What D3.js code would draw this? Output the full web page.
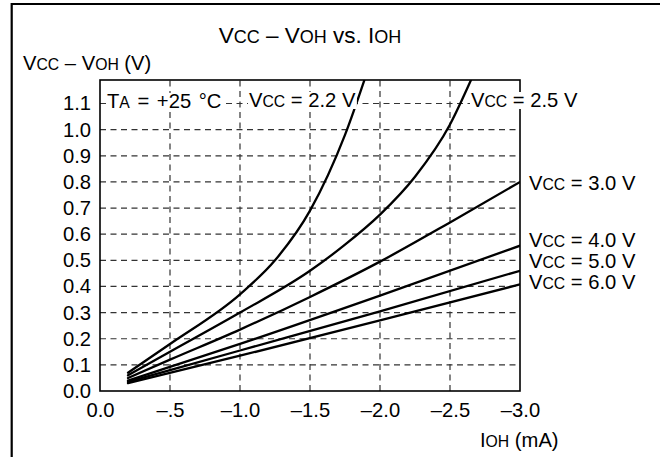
<!DOCTYPE html>
<html>
<head>
<meta charset="utf-8">
<script src="https://cdn.jsdelivr.net/npm/d3@7"></script>
<style>
  html, body { margin: 0; padding: 0; background: #fff; }
  svg { display: block; }
  text { font-family: "Liberation Sans", Arial, Helvetica, sans-serif; fill: #000; }
</style>
</head>
<body>
<svg id="chart" width="660" height="457"></svg>
<script>
// ---------- data ----------
const seriesNames = ["2.2", "2.5", "3.0", "4.0", "5.0", "6.0"];
const ioh22 = [-0.2, -0.5, -1.0, -1.25, -1.5, -1.75, -1.92];
const v22   = [0.07, 0.18, 0.37, 0.50, 0.69, 0.98, 1.24];
const ioh25 = [-0.2, -0.5, -1.0, -1.5, -1.75, -2.0, -2.25, -2.5, -2.65];
const v25   = [0.06, 0.15, 0.30, 0.46, 0.56, 0.675, 0.82, 1.02, 1.19];
const ioh30 = [-0.2, -0.5, -1.0, -1.5, -2.0, -2.5, -3.0];
const v30   = [0.05, 0.12, 0.235, 0.36, 0.495, 0.645, 0.80];
const ioh40 = [-0.2, -1.0, -2.0, -3.0];
const v40   = [0.04, 0.18, 0.365, 0.556];
const ioh50 = [-0.2, -1.0, -2.0, -3.0];
const v50   = [0.035, 0.155, 0.305, 0.46];
const ioh60 = [-0.2, -1.0, -2.0, -3.0];
const v60   = [0.03, 0.135, 0.27, 0.408];
const xTickValues = [0, -0.5, -1.0, -1.5, -2.0, -2.5, -3.0];
const xTickLabels = ["0.0", "\u2013.5", "\u20131.0", "\u20131.5", "\u20132.0", "\u20132.5", "\u20133.0"];
const yTickValues = [0.0, 0.1, 0.2, 0.3, 0.4, 0.5, 0.6, 0.7, 0.8, 0.9, 1.0, 1.1];
const yTickLabels = ["0.0", "0.1", "0.2", "0.3", "0.4", "0.5", "0.6", "0.7", "0.8", "0.9", "1.0", "1.1"];

const seriesI = [ioh22, ioh25, ioh30, ioh40, ioh50, ioh60];
const seriesV = [v22, v25, v30, v40, v50, v60];

// ---------- layout ----------
const L = 100, R = 520, T = 80, B = 391;
const FS = 20.2;
const SUB = 0.78;

const svg = d3.select("#chart");
const x = d3.scaleLinear().domain([0, -3]).range([L, R]);
const y = d3.scaleLinear().domain([0, 1.19]).range([B, T]);

// outer frame (top + left)
svg.append("path")
  .attr("d", `M11.7,457 L11.7,4 L660,4`)
  .attr("fill", "none").attr("stroke", "#000").attr("stroke-width", 2.2);

function richText(g, parts, px, py, anchor, size, sub) {
  const fs = size || FS, sr = sub || SUB;
  const t = g.append("text").attr("x", px).attr("y", py)
    .attr("text-anchor", anchor || "start")
    .style("font-size", fs + "px");
  parts.forEach(([s, isSub]) => {
    const ts = t.append("tspan").text(s);
    if (isSub) ts.style("font-size", (fs * sr) + "px");
  });
  return t;
}

// grid
const grid = svg.append("g");
grid.selectAll("line.h").data(yTickValues.filter(v => v > 0)).join("line")
  .attr("x1", L).attr("x2", R)
  .attr("y1", d => y(d)).attr("y2", d => y(d))
  .attr("stroke", "#333").attr("stroke-width", 1.2).attr("stroke-dasharray", "6,4.5");
grid.selectAll("line.v").data(xTickValues.filter(v => v < 0 && v > -3)).join("line")
  .attr("y1", B).attr("y2", T)
  .attr("x1", d => x(d)).attr("x2", d => x(d))
  .attr("stroke", "#333").attr("stroke-width", 1.2).attr("stroke-dasharray", "6,4.5");

// axes
const xAxis = d3.axisBottom(x).tickValues(xTickValues)
  .tickFormat((d, i) => xTickLabels[i]).tickSize(0).tickPadding(12);
const gx = svg.append("g").attr("transform", `translate(0,${B})`).call(xAxis);
gx.select(".domain").remove();
gx.selectAll("text").style("font-size", FS + "px").style("font-family", null).attr("fill", "#000");

const yAxis = d3.axisLeft(y).tickValues(yTickValues)
  .tickFormat((d, i) => yTickLabels[i]).tickSize(0).tickPadding(9);
const gy = svg.append("g").attr("transform", `translate(${L},0)`).call(yAxis);
gy.select(".domain").remove();
gy.selectAll("text").style("font-size", FS + "px").style("font-family", null).attr("fill", "#000");

// curves
svg.append("clipPath").attr("id", "plotclip")
  .append("rect").attr("x", L).attr("y", T).attr("width", R - L).attr("height", B - T);
const line = d3.line().x(d => x(d[0])).y(d => y(d[1])).curve(d3.curveMonotoneX);
const curves = svg.append("g").attr("clip-path", "url(#plotclip)");
seriesNames.forEach((n, k) => {
  const pts = seriesI[k].map((v, i) => [v, seriesV[k][i]]);
  curves.append("path").datum(pts).attr("d", line)
    .attr("fill", "none").attr("stroke", "#000").attr("stroke-width", 2.3)
    .attr("stroke-linejoin", "round").attr("stroke-linecap", "round");
});

// plot box
svg.append("rect").attr("x", L).attr("y", T).attr("width", R - L).attr("height", B - T)
  .attr("fill", "none").attr("stroke", "#000").attr("stroke-width", 1.6);

// labels
const ann = svg.append("g");
function labelWithBg(parts, px, py, anchor, wordSpacing) {
  const t = richText(ann, parts, px, py, anchor);
  if (wordSpacing) t.style("word-spacing", wordSpacing + "px");
  const bb = t.node().getBBox();
  ann.insert("rect", () => t.node())
    .attr("x", bb.x - 1).attr("y", bb.y + 3).attr("width", bb.width + 2).attr("height", bb.height - 5)
    .attr("fill", "#fff");
  return t;
}
labelWithBg([["T", false], ["A", true], [" = +25 \u00B0C", false]], 107, 108, "start", 2);
labelWithBg([["V", false], ["CC", true], [" = " + seriesNames[0] + " V", false]], 249, 107);
labelWithBg([["V", false], ["CC", true], [" = " + seriesNames[1] + " V", false]], 471, 107);
richText(svg, [["V", false], ["CC", true], [" = " + seriesNames[2] + " V", false]], 529, 190);
richText(svg, [["V", false], ["CC", true], [" = " + seriesNames[3] + " V", false]], 529, 247);
richText(svg, [["V", false], ["CC", true], [" = " + seriesNames[4] + " V", false]], 529, 267.5);
richText(svg, [["V", false], ["CC", true], [" = " + seriesNames[5] + " V", false]], 529, 288.5);

// title and axis titles
richText(svg, [["V", false], ["CC", true], [" \u2013 V", false], ["OH", true], [" vs. I", false], ["OH", true]], 310, 42.5, "middle", 22.5, 0.8);
richText(svg, [["V", false], ["CC", true], [" \u2013 V", false], ["OH", true], [" (V)", false]], 23, 70);
richText(svg, [["I", false], ["OH", true], [" (mA)", false]], 480, 447);
</script>
</body>
</html>
